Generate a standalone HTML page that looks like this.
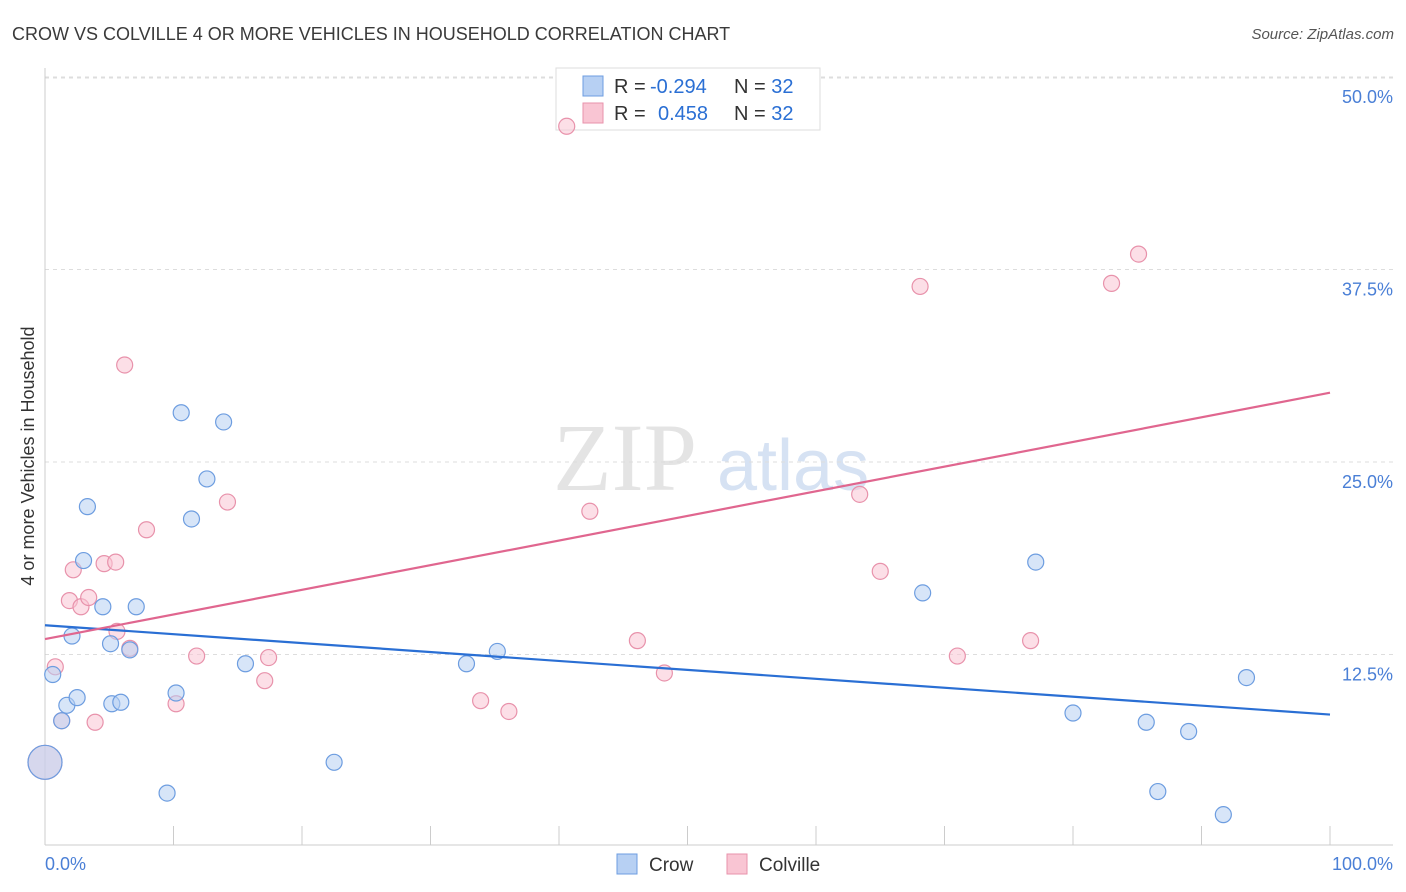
<!DOCTYPE html>
<html><head><meta charset="utf-8"><style>
body{margin:0;background:#fff;font-family:"Liberation Sans",sans-serif}
#wrap{position:relative;width:1406px;height:892px;overflow:hidden}
svg{position:absolute;left:0;top:0}
</style></head><body>
<div id="wrap">
<svg id="c" width="1406" height="892"></svg>
</div>
<script>
const crowX=[0,0.6,1.3,1.7,2.1,2.5,3.0,3.3,4.5,5.1,5.2,5.9,6.6,7.1,9.5,10.2,10.6,11.4,12.6,13.9,15.6,22.5,32.8,35.2,68.3,77.1,80.0,85.7,86.6,89.0,91.7,93.5];
const crowY=[5.5,11.2,8.2,9.2,13.7,9.7,18.6,22.1,15.6,13.2,9.3,9.4,12.8,15.6,3.5,10.0,28.2,21.3,23.9,27.6,11.9,5.5,11.9,12.7,16.5,18.5,8.7,8.1,3.6,7.5,2.1,11.0];
const colX=[0,0.8,1.3,1.9,2.2,2.8,3.4,3.9,4.6,5.5,5.6,6.2,6.6,7.9,10.2,11.8,14.2,17.1,17.4,33.9,36.1,40.6,42.4,46.1,48.2,63.4,65.0,68.1,71.0,76.7,83.0,85.1];
const colY=[5.5,11.7,8.2,16.0,18.0,15.6,16.2,8.1,18.4,18.5,14.0,31.3,12.9,20.6,9.3,12.4,22.4,10.8,12.3,9.5,8.8,46.8,21.8,13.4,11.3,22.9,17.9,36.4,12.4,13.4,36.6,38.5];
const crowTrend=[14.4,8.6];
const colTrend=[13.5,29.5];
const yTicks=[12.5,25.0,37.5,50.0];
const yTickLabels=["12.5%","25.0%","37.5%","50.0%"];
const xTicks=[0,10,20,30,40,50,60,70,80,90,100];

{
const NS="http://www.w3.org/2000/svg";
const svg=document.getElementById('c');
const X0=45,X1=1330,Y0=847,PXY=15.4;
const sx=v=>X0+(X1-X0)*v/100;
const sy=v=>Y0-v*PXY;
function mk(tag,attrs,parent){const e=document.createElementNS(NS,tag);for(const k in attrs)e.setAttribute(k,attrs[k]);(parent||svg).appendChild(e);return e;}

let t=mk('text',{x:12,y:40,'font-size':18,fill:'#3a3a3a'});t.textContent="CROW VS COLVILLE 4 OR MORE VEHICLES IN HOUSEHOLD CORRELATION CHART";


t=mk('text',{x:1394,y:39,'font-size':15,fill:'#555','font-style':'italic','text-anchor':'end'});t.textContent="Source: ZipAtlas.com";



t=mk('text',{x:553,y:490,'font-size':96,fill:'#e4e4e4','font-family':'Liberation Serif, serif'});t.textContent="ZIP";


t=mk('text',{x:717,y:490,'font-size':72,fill:'#d6e2f3'});t.textContent="atlas";



yTicks.forEach((v,i)=>{
  const g=mk('line',{x1:X0,x2:1393,y1:sy(v),y2:sy(v),stroke:'#ddd','stroke-dasharray':'4,4'});
  
  
  const l=mk('text',{x:1393,y:sy(v)+26,'font-size':18,fill:'#4a7fd6','text-anchor':'end'});l.textContent=yTickLabels[i];
  
  
});
const topGrid=mk('line',{x1:X0,x2:1393,y1:78,y2:78,stroke:'#ddd','stroke-dasharray':'4,4'});


let ax=mk('line',{x1:X0,x2:X0,y1:68,y2:845,stroke:'#ccc'});


ax=mk('line',{x1:X0,x2:1393,y1:845,y2:845,stroke:'#ccc'});


xTicks.forEach(v=>{
  const k=mk('line',{x1:sx(v),x2:sx(v),y1:826,y2:845,stroke:'#ccc'});
  
  
});
t=mk('text',{x:45,y:870,'font-size':18,fill:'#4a7fd6'});t.textContent="0.0%";


t=mk('text',{x:1393,y:870,'font-size':18,fill:'#4a7fd6','text-anchor':'end'});t.textContent="100.0%";


t=mk('text',{x:0,y:0,'font-size':18,fill:'#333','text-anchor':'middle',transform:'translate(34,456) rotate(-90)'});t.textContent="4 or more Vehicles in Household";



const b=mk('rect',{x:556,y:68,width:264,height:62,fill:'#fff',stroke:'#ddd'});



function pts(xs,ys,fill,stroke,name){
  xs.forEach((x,i)=>{
    const big=(x===0&&i===0);
    const c=mk('circle',{cx:sx(x),cy:sy(ys[i]),r:big?17:8,fill:fill,'fill-opacity':0.55,stroke:stroke,'stroke-width':1.2});
    
    
  });
}
pts(colX,colY,'#f9c5d3','#e892ab','colville-point');
pts(crowX,crowY,'#b7d0f3','#6d9de0','crow-point');

let ln=mk('line',{x1:sx(0),y1:sy(crowTrend[0]),x2:sx(100),y2:sy(crowTrend[1]),stroke:'#2a6fd4','stroke-width':2.2});


ln=mk('line',{x1:sx(0),y1:sy(colTrend[0]),x2:sx(100),y2:sy(colTrend[1]),stroke:'#e0668f','stroke-width':2.2});



function row(y,fill,stroke,r,n,name){
  const s=mk('rect',{x:583,y:y-10,width:20,height:20,fill:fill,stroke:stroke});
  
  
  const tx=mk('text',{x:614,y:y+7,'font-size':20,fill:'#333'});
  const a=mk('tspan',{},tx);a.textContent='R = ';
  const bb=mk('tspan',{fill:'#2a6fd4',x:r[0]==='-'?650:658},tx);bb.textContent=r;
  const c=mk('tspan',{x:734},tx);c.textContent='N = ';
  const d=mk('tspan',{fill:'#2a6fd4'},tx);d.textContent=n;
  
  
}
row(86,'#b7d0f3','#6d9de0','-0.294','32','crow');
row(113,'#f9c5d3','#e892ab','0.458','32','colville');

function leg(x,fill,stroke,label,name){
  const s=mk('rect',{x:x,y:854,width:20,height:20,fill:fill,stroke:stroke});
  
  
  const tx=mk('text',{x:x+32,y:871,'font-size':19,fill:'#333'});tx.textContent=label;
  
  
}
leg(617,'#b7d0f3','#6d9de0','Crow','crow');
leg(727,'#f9c5d3','#e892ab','Colville','colville');
}
</script>
</body></html>
